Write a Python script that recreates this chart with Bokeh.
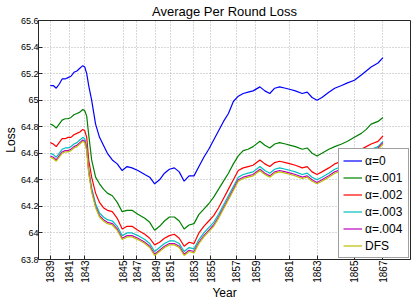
import math
from bokeh.plotting import figure
from bokeh.models import FixedTicker, Range1d, NumeralTickFormatter
from bokeh.embed import file_html
from bokeh.resources import INLINE

# ---------------- data ----------------
rounds = [0, 3, 6, 9, 12, 15, 18, 21, 24, 27,
          30, 33, 35, 37, 39, 42, 46, 50, 54, 58,
          63, 68, 73, 78, 83, 89, 96, 101, 106, 111,
          116, 121, 126, 131, 136, 141, 146, 151, 156, 161,
          166, 171, 176, 181, 186, 191, 196, 201, 206, 213,
          218, 223, 228, 233, 239, 244, 249, 256, 261, 266,
          271, 276, 283, 289, 296, 302, 309, 316, 321, 326,
          333, 338]

loss_a0 = [65.11, 65.11, 65.09, 65.12, 65.16, 65.16, 65.17, 65.18, 65.21, 65.22,
           65.24, 65.26, 65.25, 65.20, 65.11, 65.00, 64.82, 64.72, 64.66, 64.60,
           64.55, 64.52, 64.47, 64.50, 64.49, 64.47, 64.44, 64.42, 64.37, 64.40,
           64.45, 64.48, 64.49, 64.46, 64.39, 64.43, 64.43, 64.50, 64.57, 64.63,
           64.70, 64.77, 64.84, 64.90, 64.99, 65.03, 65.05, 65.06, 65.07, 65.10,
           65.07, 65.05, 65.09, 65.10, 65.09, 65.08, 65.07, 65.05, 65.06, 65.02,
           65.00, 65.02, 65.06, 65.09, 65.11, 65.13, 65.15, 65.19, 65.22, 65.25,
           65.28, 65.32]

loss_a001 = [64.82, 64.81, 64.79, 64.82, 64.85, 64.86, 64.86, 64.87, 64.89, 64.90,
             64.91, 64.93, 64.92, 64.88, 64.74, 64.55, 64.42, 64.37, 64.33, 64.30,
             64.28, 64.23, 64.16, 64.17, 64.17, 64.14, 64.11, 64.08, 64.02, 64.05,
             64.09, 64.12, 64.12, 64.09, 64.03, 64.06, 64.07, 64.14, 64.18, 64.22,
             64.27, 64.33, 64.39, 64.45, 64.52, 64.58, 64.62, 64.63, 64.65, 64.69,
             64.66, 64.64, 64.67, 64.68, 64.67, 64.66, 64.65, 64.63, 64.64, 64.60,
             64.58, 64.60, 64.63, 64.65, 64.67, 64.69, 64.72, 64.75, 64.78, 64.82,
             64.84, 64.87]

loss_a002 = [64.68, 64.67, 64.65, 64.68, 64.71, 64.71, 64.72, 64.72, 64.74, 64.75,
             64.76, 64.78, 64.77, 64.72, 64.55, 64.42, 64.30, 64.23, 64.19, 64.17,
             64.16, 64.11, 64.03, 64.05, 64.05, 64.02, 63.99, 63.96, 63.91, 63.93,
             63.96, 63.98, 63.99, 63.96, 63.90, 63.93, 63.92, 64.00, 64.05, 64.09,
             64.13, 64.19, 64.26, 64.33, 64.40, 64.47, 64.49, 64.50, 64.51, 64.55,
             64.52, 64.50, 64.53, 64.54, 64.53, 64.52, 64.51, 64.49, 64.50, 64.46,
             64.44, 64.46, 64.49, 64.52, 64.54, 64.57, 64.60, 64.63, 64.65, 64.67,
             64.69, 64.73]

loss_a003 = [64.60, 64.59, 64.57, 64.60, 64.63, 64.64, 64.64, 64.65, 64.67, 64.68,
             64.70, 64.72, 64.71, 64.65, 64.48, 64.34, 64.22, 64.15, 64.12, 64.10,
             64.09, 64.05, 63.98, 64.00, 64.00, 63.98, 63.95, 63.92, 63.86, 63.89,
             63.92, 63.94, 63.94, 63.92, 63.86, 63.89, 63.88, 63.95, 64.00, 64.04,
             64.08, 64.14, 64.21, 64.28, 64.35, 64.42, 64.44, 64.45, 64.46, 64.50,
             64.47, 64.45, 64.48, 64.49, 64.48, 64.47, 64.46, 64.44, 64.45, 64.42,
             64.40, 64.42, 64.45, 64.48, 64.50, 64.53, 64.56, 64.59, 64.61, 64.63,
             64.65, 64.69]

loss_a004 = [64.58, 64.57, 64.55, 64.58, 64.61, 64.62, 64.62, 64.63, 64.65, 64.66,
             64.68, 64.70, 64.69, 64.63, 64.46, 64.32, 64.20, 64.13, 64.10, 64.08,
             64.07, 64.03, 63.96, 63.98, 63.98, 63.96, 63.93, 63.90, 63.84, 63.87,
             63.90, 63.92, 63.92, 63.90, 63.84, 63.87, 63.86, 63.93, 63.98, 64.02,
             64.06, 64.12, 64.19, 64.26, 64.33, 64.40, 64.42, 64.43, 64.44, 64.48,
             64.45, 64.43, 64.46, 64.47, 64.46, 64.45, 64.44, 64.42, 64.43, 64.40,
             64.38, 64.40, 64.43, 64.46, 64.48, 64.51, 64.54, 64.57, 64.59, 64.61,
             64.64, 64.68]

loss_dfs = [64.57, 64.56, 64.54, 64.57, 64.60, 64.61, 64.61, 64.62, 64.64, 64.65,
            64.67, 64.69, 64.68, 64.62, 64.45, 64.31, 64.19, 64.12, 64.09, 64.07,
            64.06, 64.02, 63.95, 63.97, 63.97, 63.95, 63.92, 63.89, 63.83, 63.86,
            63.89, 63.91, 63.91, 63.89, 63.83, 63.86, 63.85, 63.92, 63.97, 64.01,
            64.05, 64.11, 64.18, 64.25, 64.32, 64.39, 64.41, 64.42, 64.43, 64.47,
            64.44, 64.42, 64.45, 64.46, 64.45, 64.44, 64.43, 64.41, 64.42, 64.39,
            64.37, 64.39, 64.42, 64.45, 64.47, 64.50, 64.53, 64.56, 64.58, 64.60,
            64.63, 64.67]

series_names = ["\u03b1=0", "\u03b1=.001", "\u03b1=.002", "\u03b1=.003", "\u03b1=.004", "DFS"]
series_values = [loss_a0, loss_a001, loss_a002, loss_a003, loss_a004, loss_dfs]
series_colors = ["#0000ff", "#008000", "#ff0000", "#00bfbf", "#bf00bf", "#bfbf00"]

year_ticks = [0, 19, 35, 74, 88, 107, 122, 146, 163, 189, 209, 243, 271, 309, 338]
year_labels = ["1839", "1841", "1843", "1845", "1847", "1849", "1851", "1853",
               "1855", "1857", "1859", "1861", "1863", "1865", "1867"]
loss_ticks = [63.8, 64.0, 64.2, 64.4, 64.6, 64.8, 65.0, 65.2, 65.4, 65.6]

FONT = "Liberation Sans"
AX = "#262626"

# ---------------- figure ----------------
p = figure(width=415, height=304, output_backend="svg", toolbar_location=None,
           x_range=Range1d(-12, 366), y_range=Range1d(63.8, 65.6),
           title="Average Per Round Loss",
           min_border_left=32, min_border_right=5, min_border_top=20,
           min_border_bottom=45)
p.background_fill_color = "white"
p.border_fill_color = "white"
p.outline_line_color = AX
p.outline_line_width = 1

p.title.align = "center"
p.title.text_font = FONT
p.title.text_font_size = "13px"
p.title.text_font_style = "normal"
p.title.text_color = "black"
p.title.standoff = 3
p.title.offset = 0

for name, vals, col in zip(series_names, series_values, series_colors):
    p.line(rounds, vals, line_color=col, line_width=1.2, legend_label=name)

# axes
xa = p.xaxis[0]
xa.ticker = FixedTicker(ticks=year_ticks)
xa.major_label_overrides = {t: l for t, l in zip(year_ticks, year_labels)}
xa.major_label_orientation = math.pi / 2
xa.axis_label = "Year"

ya = p.yaxis[0]
ya.ticker = FixedTicker(ticks=loss_ticks)
ya.formatter = NumeralTickFormatter(format="0.[0]")
ya.axis_label = "Loss"

for ax, fs, so in ((xa, "10px", 1), (ya, "9px", 0)):
    ax.major_label_text_font = FONT
    ax.major_label_text_font_size = fs
    ax.major_label_text_color = "black"
    ax.major_label_standoff = so
    ax.major_tick_in = 4
    ax.major_tick_out = 0
    ax.minor_tick_in = 0
    ax.minor_tick_out = 0
    ax.axis_line_color = AX
    ax.major_tick_line_color = AX
    ax.axis_label_standoff = 0
    ax.axis_label_text_font = FONT
    ax.axis_label_text_font_size = "12px"
    ax.axis_label_text_font_style = "normal"
    ax.axis_label_text_color = "black"

# grid
for g in (p.xgrid[0], p.ygrid[0]):
    g.grid_line_color = "#b0b0b0"
    g.grid_line_dash = "1 2"
    g.grid_line_width = 1

# legend
lg = p.legend[0]
lg.location = "bottom_right"
lg.margin = 1
lg.padding = 4
lg.spacing = 2
lg.glyph_width = 19
lg.glyph_height = 15
lg.label_height = 15
lg.label_width = 39
lg.label_standoff = 3
lg.label_text_font = FONT
lg.label_text_font_size = "12px"
lg.label_text_color = "black"
lg.border_line_color = "#404040"
lg.border_line_width = 1
lg.background_fill_color = "white"
lg.background_fill_alpha = 1.0

open("out.html", "w").write(file_html(p, INLINE))
